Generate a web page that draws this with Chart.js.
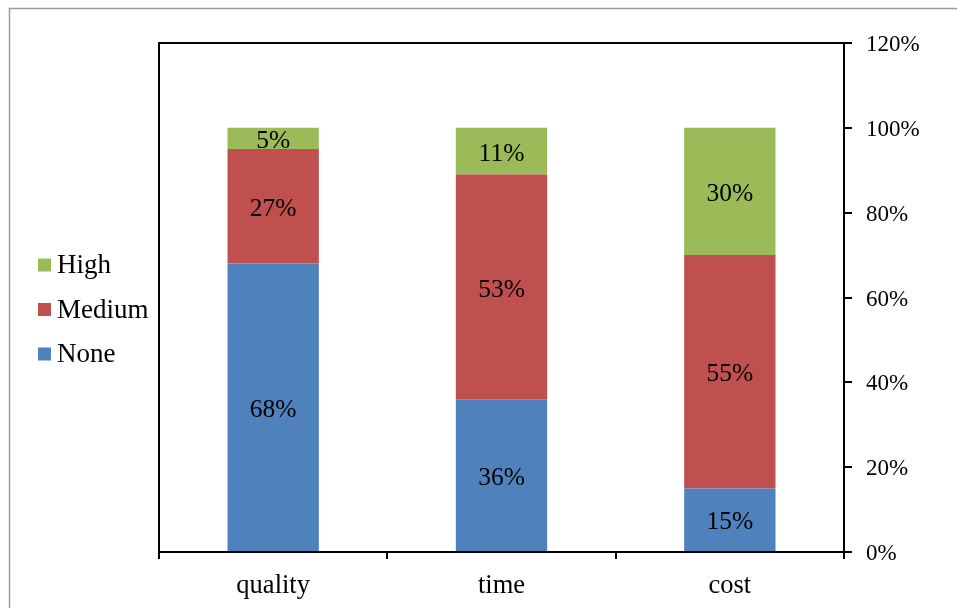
<!DOCTYPE html>
<html>
<head>
<meta charset="utf-8">
<script src="https://cdn.jsdelivr.net/npm/chart.js@4/dist/chart.umd.min.js"></script>
<style>
  html, body { margin: 0; padding: 0; background: #fff; }
  #wrap { width: 957px; height: 608px; position: relative; }
</style>
</head>
<body>
<div id="wrap"><canvas id="c" width="957" height="608"></canvas></div>
<script>
// Share of responses per factor, in percent
const categories = ['quality', 'time', 'cost'];
const noneValues = [68, 36, 15];
const mediumValues = [27, 53, 55];
const highValues = [5, 11, 30];
const yTicks = [0, 20, 40, 60, 80, 100, 120];

const SERIF = '"Liberation Serif", "Times New Roman", serif';

// Centered value labels inside each stacked segment
const segmentLabels = {
  id: 'segmentLabels',
  afterDatasetsDraw(chart) {
    const ctx = chart.ctx;
    ctx.save();
    ctx.font = '25.5px ' + SERIF;
    ctx.fillStyle = '#000';
    ctx.textAlign = 'center';
    ctx.textBaseline = 'middle';
    chart.data.datasets.forEach((ds, i) => {
      const meta = chart.getDatasetMeta(i);
      meta.data.forEach((bar, j) => {
        const v = ds.data[j];
        const yMid = (bar.y + bar.base) / 2;
        ctx.fillText(v + '%', bar.x, yMid + 3);
      });
    });
    ctx.restore();
  }
};

// Outer frame, plot frame and the legend on the left
const frameAndLegend = {
  id: 'frameAndLegend',
  beforeDraw(chart) {
    const ctx = chart.ctx;
    ctx.save();
    ctx.strokeStyle = '#9a9a9a';
    ctx.lineWidth = 1.5;
    ctx.strokeRect(9.5, 8.5, 980, 640);
    ctx.restore();
  },
  afterDraw(chart) {
    const ctx = chart.ctx;
    const a = chart.chartArea;
    ctx.save();
    ctx.strokeStyle = '#000';
    ctx.lineWidth = 2;
    ctx.strokeRect(a.left, a.top, a.right - a.left, a.bottom - a.top);

    // legend, listed top to bottom in reverse stacking order
    const items = chart.data.datasets.map(d => ({ label: d.label, color: d.backgroundColor })).reverse();
    ctx.font = '27px ' + SERIF;
    ctx.textBaseline = 'middle';
    ctx.textAlign = 'left';
    items.forEach((it, k) => {
      const cy = 265 + k * 44.5;
      ctx.fillStyle = it.color;
      ctx.fillRect(38, cy - 6.5, 13, 13);
      ctx.fillStyle = '#000';
      ctx.fillText(it.label, 57, cy + 1);
    });
    ctx.restore();
  }
};

new Chart(document.getElementById('c'), {
  type: 'bar',
  data: {
    labels: categories,
    datasets: [
      { label: 'None', data: noneValues, backgroundColor: '#4F81BD' },
      { label: 'Medium', data: mediumValues, backgroundColor: '#C0504D' },
      { label: 'High', data: highValues, backgroundColor: '#9BBB59' }
    ]
  },
  options: {
    responsive: false,
    animation: false,
    devicePixelRatio: 1,
    layout: { padding: { left: 159, top: 43, right: 0, bottom: 0 } },
    datasets: { bar: { categoryPercentage: 1, barPercentage: 0.4, borderWidth: 0 } },
    plugins: { legend: { display: false }, tooltip: { enabled: false } },
    scales: {
      x: {
        stacked: true,
        grid: { offset: true, drawOnChartArea: false, tickLength: 7, color: '#000', lineWidth: 2 },
        border: { color: '#000', width: 2 },
        ticks: { color: '#000', font: { family: SERIF, size: 26.5 }, padding: 11 },
        afterFit(s) { s.height = 56; }
      },
      y: {
        stacked: true,
        position: 'right',
        min: 0,
        max: 120,
        afterBuildTicks(s) { s.ticks = yTicks.map(v => ({ value: v })); },
        grid: { drawOnChartArea: false, tickLength: 8, color: '#000', lineWidth: 2 },
        border: { color: '#000', width: 2 },
        ticks: { color: '#000', font: { family: SERIF, size: 23 }, padding: 14, labelOffset: 2, callback: v => v + '%' },
        afterFit(s) { s.width = 113; }
      }
    }
  },
  plugins: [segmentLabels, frameAndLegend]
});
</script>
</body>
</html>
